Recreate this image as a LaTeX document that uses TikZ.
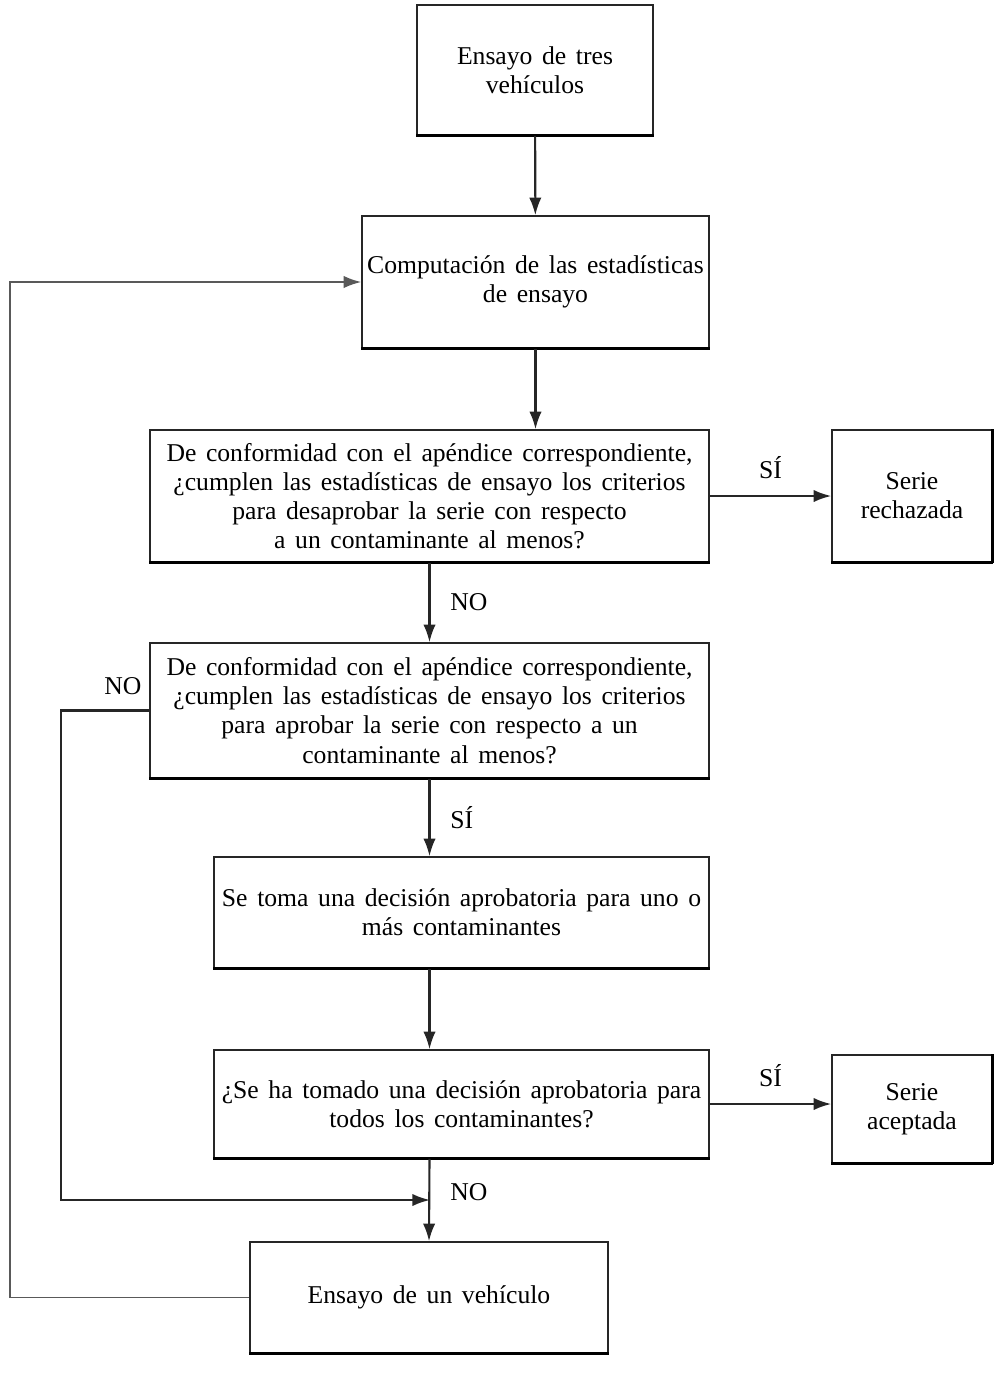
\documentclass[tikz,border=0pt]{standalone}
\usepackage{fontspec}
\setmainfont{Liberation Serif}[WordSpace=1.5]
\usetikzlibrary{arrows.meta}
\tikzset{
  box/.style={draw=black!85, line width=0.9pt, align=center, inner sep=1pt,
    font=\fontsize{14.6}{16.6}\selectfont},
  flow/.style={->, draw=black!85, line width=1.2pt},
  lbl/.style={font=\fontsize{14.6}{16.6}\selectfont}
}
\begin{document}
\begin{tikzpicture}[>={Latex[length=10pt,width=7pt]}, x=0.02cm, y=-0.02cm]
\useasboundingbox (0,0) rectangle (1002,1383);
\node[box, minimum width=4.72cm, minimum height=2.6cm] (tres) at (535,70) {Ensayo de tres\\vehículos};
\node[box, minimum width=6.94cm, minimum height=2.64cm] (comp) at (535.5,282) {Computación de las estadísticas\\de ensayo};
\node[box, minimum width=11.18cm, minimum height=2.64cm] (q1) at (429.5,496) {De conformidad con el apéndice correspondiente,\\¿cumplen las estadísticas de ensayo los criterios\\para desaprobar la serie con respecto\\a un contaminante al menos?};
\node[box, minimum width=3.2cm, minimum height=2.64cm] (rech) at (912,496) {Serie\\rechazada};
\node[box, minimum width=11.18cm, minimum height=2.7cm] (q2) at (429.5,710.5) {De conformidad con el apéndice correspondiente,\\¿cumplen las estadísticas de ensayo los criterios\\para aprobar la serie con respecto a un\\contaminante al menos?};
\node[box, minimum width=9.9cm, minimum height=2.22cm] (dec) at (461.5,912.5) {Se toma una decisión aprobatoria para uno o\\más contaminantes};
\node[box, minimum width=9.9cm, minimum height=2.16cm] (q3) at (461.5,1104) {¿Se ha tomado una decisión aprobatoria para\\todos los contaminantes?};
\node[box, minimum width=3.2cm, minimum height=2.16cm] (acep) at (912,1109) {Serie\\aceptada};
\node[box, minimum width=7.16cm, minimum height=2.22cm] (uno) at (429,1297.5) {Ensayo de un vehículo};
% heavier lower edges
\foreach \n in {tres,comp,q1,rech,q2,dec,q3,acep,uno}
  \draw[line width=1.8pt] (\n.south west) -- (\n.south east);
\foreach \n in {rech,acep}
  \draw[line width=1.8pt] (\n.north east) -- (\n.south east);
% main flow
\draw[flow] (tres) -- (comp);
\draw[flow] (comp) -- (comp.south |- q1.north);
\draw[flow] (q1) -- node[lbl, above=6pt] {SÍ} (rech);
\draw[flow] (q1) -- node[lbl, right=8pt] {NO} (q2);
\draw[flow] (q2) -- node[lbl, right=8pt] {SÍ} (q2.south |- dec.north);
\draw[flow] (q2.south |- dec.south) -- (q2.south |- q3.north);
\draw[flow] (q3.east) -- node[lbl, above=6pt] {SÍ} (q3.east -| acep.west);
\coordinate (nojoin) at (430,1200);
\draw[flow] (q2.south |- q3.south) -- node[lbl, pos=0.4, right=8pt] {NO} (uno.north);
\draw[flow] (q2.west) -- node[lbl, pos=0.3, above=5pt] {NO} ++(-88,0) |- (nojoin);
% back to computation
\coordinate (back) at (10,0);
\draw[flow, draw=black!65, line width=1pt] (uno.west) -- (uno.west -| back) |- (comp.west);
\end{tikzpicture}
\end{document}
